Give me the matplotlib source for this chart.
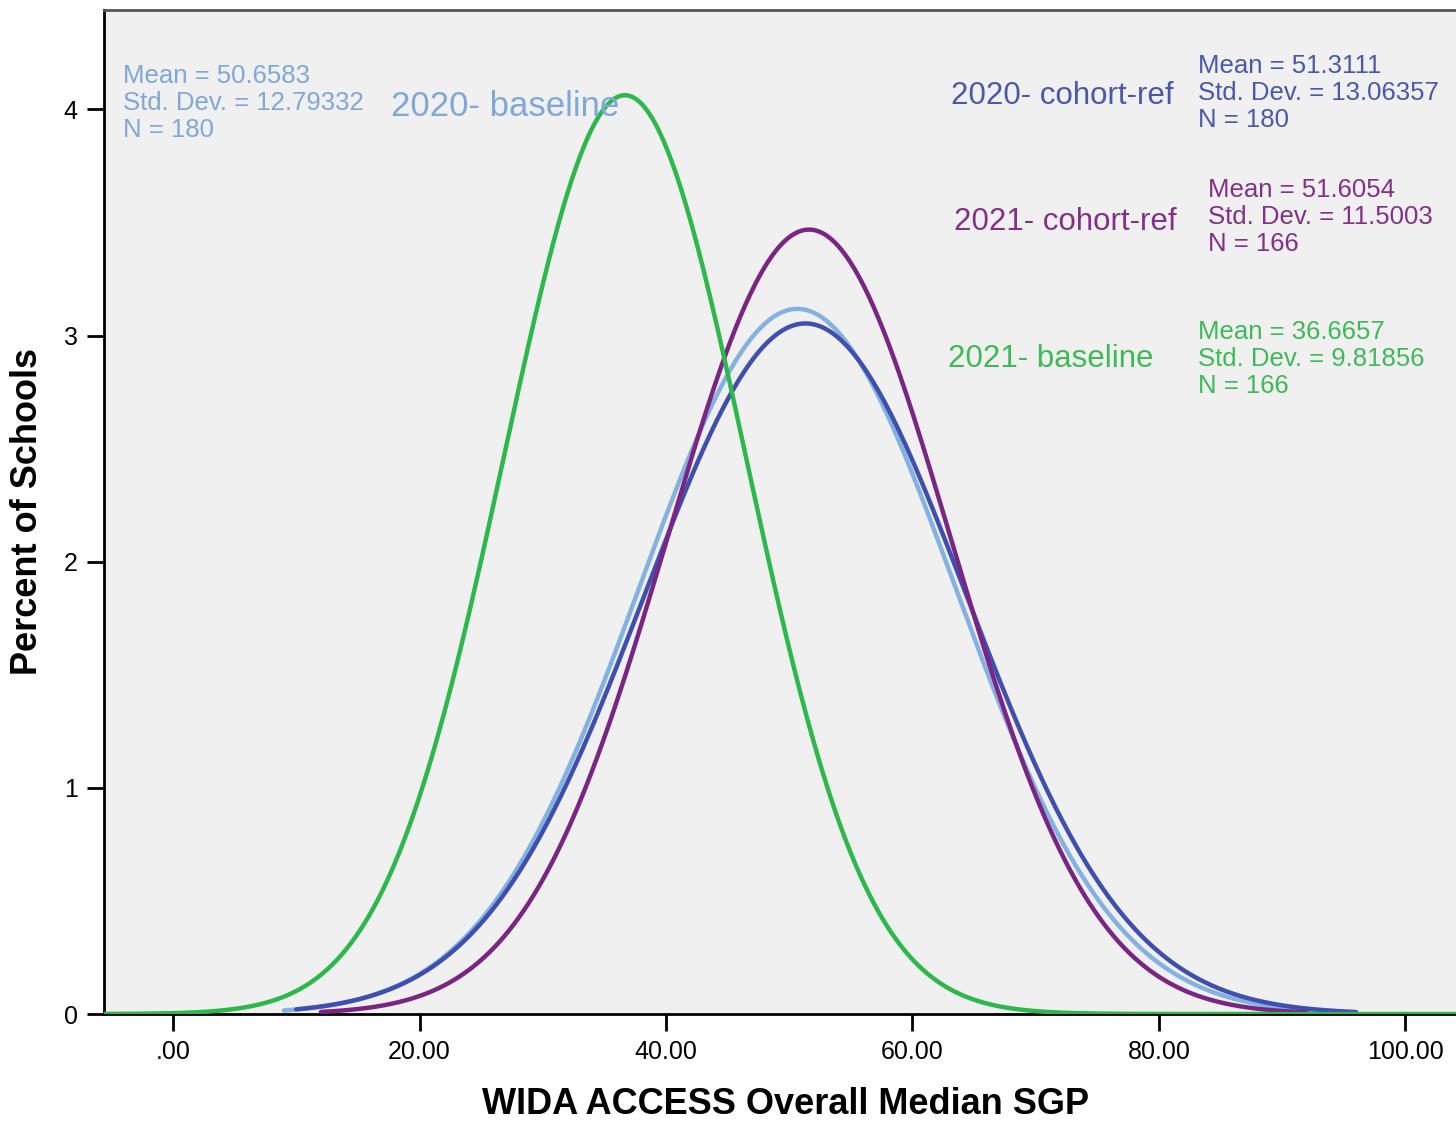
import numpy as np
import matplotlib
matplotlib.use('agg')
import matplotlib.pyplot as plt

# fitted normal curves (SPSS histogram "normal curve" output)
series = ["2020- baseline", "2020- cohort-ref", "2021- cohort-ref", "2021- baseline"]
means = [50.6583, 51.3111, 51.6054, 36.6657]
sds = [12.79332, 13.06357, 11.5003, 9.81856]
ns = [180, 180, 166, 166]
x_from = [9.0, 10.0, 12.0, -6.0]
x_to = [96.0, 96.0, 92.0, 105.0]
colors = ["#84B2E0", "#3E4FB0", "#7A2583", "#2DB84B"]
text_colors = ["#7FA8D8", "#4A58AC", "#833089", "#3DBA55"]
xticks = [0, 20, 40, 60, 80, 100]
xticklabels = [".00", "20.00", "40.00", "60.00", "80.00", "100.00"]
yticks = [0, 1, 2, 3, 4]

W, H = 1456, 1123
fig = plt.figure(figsize=(W/100.0, H/100.0), dpi=100)
ax = fig.add_axes([104.0/W, 1-1014.0/H, 1-104.0/W, (1014.0-10)/H])
ax.set_facecolor("#F0F0F0")

def px(x, y):
    return x/float(W), 1-y/float(H)

# draw order: purple, dark blue, light blue, green on top
for i in [2, 1, 0, 3]:
    xs = np.linspace(x_from[i], x_to[i], 600)
    ys = 100.0/(sds[i]*np.sqrt(2*np.pi))*np.exp(-0.5*((xs-means[i])/sds[i])**2)
    ax.plot(xs, ys, color=colors[i], lw=3.2, solid_capstyle='round', zorder=3+i*0.1)

ax.set_xlim(-5.6, 104.1)
ax.set_ylim(0, 4.44)
ax.set_xticks(xticks)
ax.set_xticklabels(xticklabels)
ax.set_yticks(yticks)
ax.tick_params(axis='both', direction='out', length=12, width=2, labelsize=18, pad=7, colors='black')
for lab in ax.get_xticklabels() + ax.get_yticklabels():
    lab.set_family('Liberation Sans')
ax.spines['right'].set_visible(False)
ax.spines['top'].set_color('#555555')
ax.spines['top'].set_linewidth(2)
ax.spines['left'].set_linewidth(2)
ax.spines['bottom'].set_linewidth(2)

fig.text(*px(786, 1104), "WIDA ACCESS Overall Median SGP", ha='center', va='center',
         fontsize=26, fontweight='bold', family='Liberation Sans')
fig.text(*px(28, 512), "Percent of Schools", ha='center', va='center', rotation=90,
         fontsize=26, fontweight='bold', family='Liberation Sans')

# annotation blocks: (label x, label y, stats x, first stats line y)
label_pos = [(391, 107), (951, 96), (954, 222), (948, 359)]
label_size = [25, 22.5, 22.5, 22.5]
stats_pos = [(123, 76), (1198, 66), (1208, 190), (1198, 332)]
for i in range(4):
    lx, ly = label_pos[i]
    fig.text(*px(lx, ly), series[i], ha='left', va='center', fontsize=label_size[i],
             color=text_colors[i], family='Liberation Sans')
    sx, sy = stats_pos[i]
    lines = ["Mean = %s" % ("%.4f" % means[i]),
             "Std. Dev. = %s" % repr(sds[i]),
             "N = %d" % ns[i]]
    for k, t in enumerate(lines):
        fig.text(*px(sx, sy+27*k), t, ha='left', va='center', fontsize=18.5,
                 color=text_colors[i], family='Liberation Sans')

plt.savefig("out.png", dpi=100)
plt.close(fig)
